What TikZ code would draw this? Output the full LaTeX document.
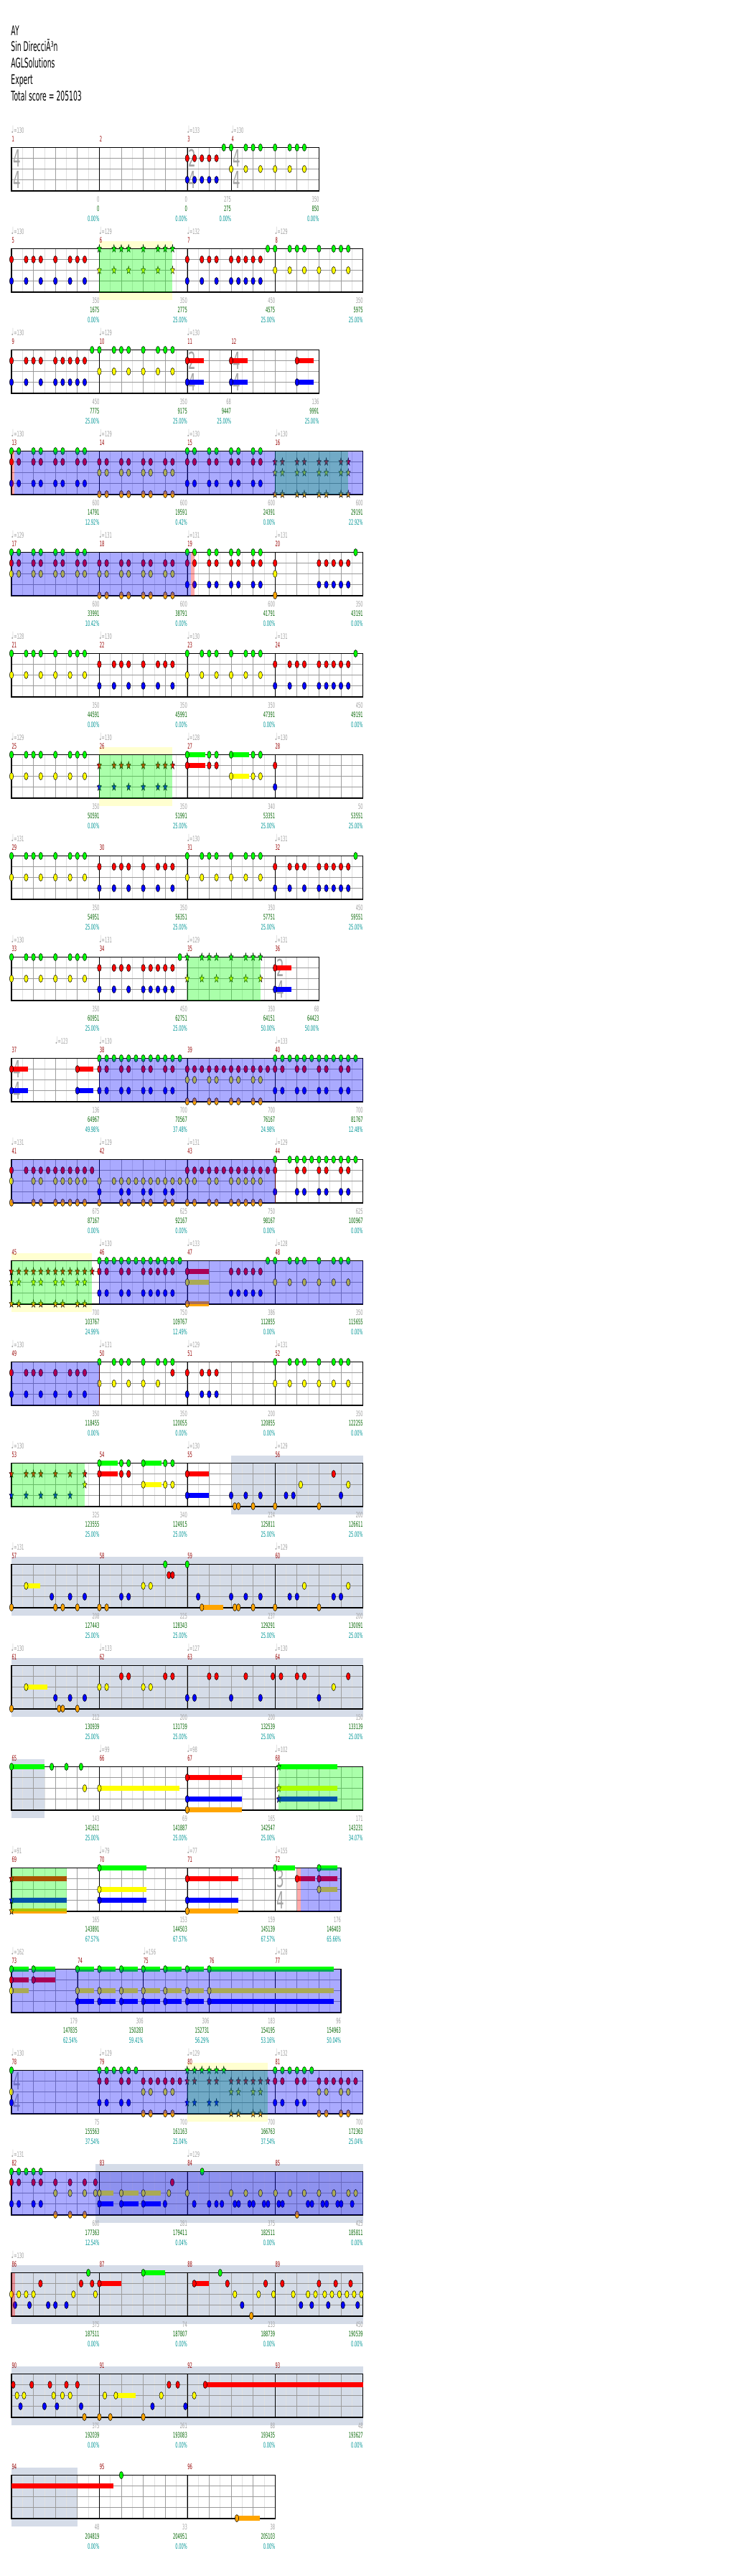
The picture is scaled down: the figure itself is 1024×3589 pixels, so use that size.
\documentclass[tikz,border=0pt]{standalone}
\usepackage{fontspec}
\setmainfont{DejaVu Sans}[FakeStretch=0.5]
\usetikzlibrary{shapes.geometric}
\definecolor{cG}{RGB}{0,255,0}
\definecolor{cR}{RGB}{255,0,0}
\definecolor{cY}{RGB}{255,255,0}
\definecolor{cB}{RGB}{0,0,255}
\definecolor{cO}{RGB}{255,165,0}
\definecolor{cSolo}{RGB}{213,220,232}
\definecolor{cPale}{RGB}{255,255,208}
\definecolor{cLg}{RGB}{160,160,160}
\definecolor{cGr}{RGB}{0,100,0}
\definecolor{cTl}{RGB}{0,150,150}
\definecolor{cMn}{RGB}{150,0,0}
\definecolor{cTs}{RGB}{165,165,165}
\newcommand\myN[3]{\foreach \b in {#3}{\filldraw[nt,fill=#1] (\b,#2) ellipse [x radius=2.7pt,y radius=5pt];}}
\newcommand\myS[3]{\foreach \b in {#3}{\node[stn,fill=#1] at (\b,#2) {};}}
\newcommand\mySus[4]{\fill[#1] (#3,{#2-3.4}) rectangle (#4,{#2+3.4});}
\newcommand\myOv[3]{\fill[#1,fill opacity=0.333] (#2,0) rectangle (#3,60.5);}
\newcommand\myBg[3]{\fill[#1] (#2,-10.3) rectangle (#3,71);}
\newcommand\myBgP[2]{\fill[cPale] (#1,-10.3) rectangle (#2,0);\fill[cPale] (#1,60.5) rectangle (#2,71);}
\newcommand\myLab[4]{\node[lg] at (#1,76) {#2};\node[lgr] at (#1,89.3) {#3};\node[lpc] at (#1,102.5) {#4};}
\newcommand\myTmp[2]{\node[tmp] at (#1,-20.3) {{\fontsize{14}{14}\selectfont ♩}=#2};}
\newcommand\myMn[2]{\node[mnum] at (#1,-7.9) {#2};}
\newcommand\myMns[4]{\myMn{0}{#1}\myMn{4}{#2}\myMn{8}{#3}\myMn{12}{#4}}
\newcommand\myTS[3]{\node[tsig] at (#1,15) {#2};\node[tsig] at (#1,45) {#3};}
\newcommand\myStaff[2]{%
  \foreach \i in {1,...,#1}{\draw[hb] ({\i-0.5},0) -- ({\i-0.5},60.5);}
  \pgfmathtruncatemacro\mynmx{#1-1}
  \foreach \i in {1,...,\mynmx}{\draw[bt] (\i,0) -- (\i,60.5);}
  \foreach \y in {15,30,45}{\draw[hl] (0,\y) -- (#1,\y);}
  \foreach \i in {#2}{\draw[ml] (\i,0) -- (\i,60.5);}
  \draw[bd] (0,0) rectangle (#1,60.5);}
\begin{document}
\begin{tikzpicture}[x=1pt,y=-1pt,
 every node/.style={inner sep=0pt,outer sep=0pt},
 nt/.style={draw=black,line width=0.5pt},
 stn/.style={star,star points=5,star point ratio=2.4,minimum size=11.5pt,inner sep=0pt,draw=black,line width=0.4pt,xscale=0.58,transform shape},
 hb/.style={black!12,line width=0.6pt},
 bt/.style={black!38,line width=0.7pt},
 hl/.style={black!40,line width=0.9pt},
 ml/.style={black,line width=0.6pt},
 bd/.style={black,line width=1.1pt},
 lg/.style={text=cLg,anchor=base east,font=\fontsize{10.3}{12}\selectfont},
 lgr/.style={text=cGr,anchor=base east,font=\fontsize{10.3}{12}\selectfont},
 lpc/.style={text=cTl,anchor=base east,font=\fontsize{10.3}{12}\selectfont},
 tmp/.style={text=cLg,anchor=base west,font=\fontsize{10.3}{12}\selectfont},
 mnum/.style={text=cMn,anchor=base west,xshift=0.5pt,font=\fontsize{10.3}{12}\selectfont},
 tsig/.style={text=cTs,anchor=west,xshift=2pt,font=\fontsize{33}{33}\selectfont},
 hdr/.style={anchor=base west,font=\fontsize{18.5}{20}\selectfont}]
\useasboundingbox (0,0) rectangle (1024,3589);
\fill[white] (0,0) rectangle (1024,3589);
\node[hdr] (h1) at (15.5,49.3) {AY};
\node[hdr] (h2) at (15.5,72) {Sin DirecciÃ³n};
\node[hdr] (h3) at (15.5,95) {AGLSolutions};
\node[hdr] (h4) at (15.5,117.5) {Expert};
\node[hdr] (h5) at (15.5,140.7) {Total score = 205103};
% Row 1
\begin{scope}[shift={(16,205.5)},x=30.6pt]
\myStaff{14}{4,8,10}
\myTS{0}{4}{4}\myTS{8}{2}{4}\myTS{10}{4}{4}
\myN{cR}{15}{8,8.333,8.667,9,9.333}
\myN{cB}{45}{8,8.333,8.667,9,9.333}
\myN{cG}{0}{9.667,10,10.667,11,11.333,12,12.667,13,13.333}
\myN{cY}{30}{10,10.667,11.333,12,12.667,13.333}
\myTmp{0}{130}\myTmp{8}{133}\myTmp{10}{130}
\myMn{0}{1}\myMn{4}{2}\myMn{8}{3}\myMn{10}{4}
\myLab{4}{0}{0}{0.00\%}\myLab{8}{0}{0}{0.00\%}\myLab{10}{275}{275}{0.00\%}\myLab{14}{350}{850}{0.00\%}
\end{scope}
% Row 2
\begin{scope}[shift={(16,346.5)},x=30.6pt]
\myBgP{4}{7.33}
\myStaff{16}{4,8,12}
\myN{cR}{15}{0,0.667,1,1.333,2,2.667,3,3.333}
\myN{cB}{45}{0,0.667,1.333,2,2.667,3.333}
\myS{cG}{0}{4,4.667,5,5.333,6,6.667,7,7.333}
\myS{cY}{30}{4,4.667,5.333,6,6.667,7.333}
\myN{cR}{15}{8,8.667,9,9.333,10,10.333,10.667,11,11.333}
\myN{cB}{45}{8,8.667,9.333,10,10.333,10.667,11,11.333}
\myN{cG}{0}{11.667,12,12.667,13,13.333,14,14.667,15,15.333}
\myN{cY}{30}{12,12.667,13.333,14,14.667,15.333}
\myOv{green}{4}{7.33}
\myTmp{0}{130}\myTmp{4}{129}\myTmp{8}{132}\myTmp{12}{129}
\myMns{5}{6}{7}{8}
\myLab{4}{350}{1675}{0.00\%}\myLab{8}{350}{2775}{25.00\%}\myLab{12}{450}{4575}{25.00\%}\myLab{16}{350}{5975}{25.00\%}
\end{scope}
% Row 3
\begin{scope}[shift={(16,487.5)},x=30.6pt]
\myStaff{14}{4,8,10}
\myTS{8}{2}{4}\myTS{10}{4}{4}
\myN{cR}{15}{0,0.667,1,1.333,2,2.333,2.667,3,3.333}
\myN{cB}{45}{0,0.667,1.333,2,2.333,2.667,3,3.333}
\myN{cG}{0}{3.667,4,4.667,5,5.333,6,6.667,7,7.333}
\myN{cY}{30}{4,4.667,5.333,6,6.667,7.333}
\mySus{cR}{15}{8}{8.75}\mySus{cB}{45}{8}{8.75}
\mySus{cR}{15}{10}{10.75}\mySus{cB}{45}{10}{10.75}
\mySus{cR}{15}{13}{13.76}\mySus{cB}{45}{13}{13.76}
\myN{cR}{15}{8,10,13}\myN{cB}{45}{8,10,13}
\myTmp{0}{130}\myTmp{4}{129}\myTmp{8}{130}
\myMn{0}{9}\myMn{4}{10}\myMn{8}{11}\myMn{10}{12}
\myLab{4}{450}{7775}{25.00\%}\myLab{8}{350}{9175}{25.00\%}\myLab{10}{68}{9447}{25.00\%}\myLab{14}{136}{9991}{25.00\%}
\end{scope}
% Row 4
\begin{scope}[shift={(16,628.5)},x=30.6pt]
\myStaff{16}{4,8,12}
\myN{cG}{0}{0,0.333,1,1.333,2,2.333,3,3.333}
\myN{cR}{15}{0,0.333,1,1.333,2,2.333,3,3.333}
\myN{cB}{45}{0,0.333,1,1.333,2,2.333,3,3.333}
\myN{cR}{15}{4,4.333,5,5.333,6,6.333,7,7.333}
\myN{cY}{30}{4,4.333,5,5.333,6,6.333,7,7.333}
\myN{cO}{60}{4,4.333,5,5.333,6,6.333,7,7.333}
\myN{cG}{0}{8,8.333,9,9.333,10,10.333,11,11.333}
\myN{cR}{15}{8,8.333,9,9.333,10,10.333,11,11.333}
\myN{cB}{45}{8,8.333,9,9.333,10,10.333,11,11.333}
\myS{cR}{15}{12,12.333,13,13.333,14,14.333,15,15.333}
\myS{cY}{30}{12,12.333,13,13.333,14,14.333,15,15.333}
\myS{cO}{60}{12,12.333,13,13.333,14,14.333,15,15.333}
\myOv{green}{12}{15.34}\myOv{red}{0}{0.13}\myOv{blue}{0.13}{16}
\myTmp{0}{130}\myTmp{4}{129}\myTmp{8}{130}\myTmp{12}{130}
\myMns{13}{14}{15}{16}
\myLab{4}{600}{14791}{12.92\%}\myLab{8}{600}{19591}{0.42\%}\myLab{12}{600}{24391}{0.00\%}\myLab{16}{600}{29191}{22.92\%}
\end{scope}
% Row 5
\begin{scope}[shift={(16,769.5)},x=30.6pt]
\myStaff{16}{4,8,12}
\myN{cG}{0}{0,0.333,1,1.333,2,2.333,3,3.333}
\myN{cR}{15}{0,0.333,1,1.333,2,2.333,3,3.333}
\myN{cY}{30}{0,0.333,1,1.333,2,2.333,3,3.333}
\myN{cR}{15}{4,4.333,5,5.333,6,6.333,7,7.333}
\myN{cY}{30}{4,4.333,5,5.333,6,6.333,7,7.333}
\myN{cO}{60}{4,4.333,5,5.333,6,6.333,7,7.333}
\myN{cG}{0}{8,8.333,9,9.333,10,10.333,11,11.333}
\myN{cR}{15}{8,8.333,9,9.333,10,10.333,11,11.333}
\myN{cB}{45}{8,8.333,9,9.333,10,10.333,11,11.333}
\myN{cR}{15}{12,14,14.333,14.667,15,15.333}
\myN{cY}{30}{12}\myN{cO}{60}{12}
\myN{cB}{45}{14,14.333,14.667,15,15.333}
\myN{cG}{0}{15.667}
\myOv{blue}{0}{8.16}\myOv{red}{8.16}{8.32}
\myTmp{0}{129}\myTmp{4}{131}\myTmp{8}{131}\myTmp{12}{131}
\myMns{17}{18}{19}{20}
\myLab{4}{600}{33991}{10.42\%}\myLab{8}{600}{38791}{0.00\%}\myLab{12}{600}{41791}{0.00\%}\myLab{16}{350}{43191}{0.00\%}
\end{scope}
% Row 6
\begin{scope}[shift={(16,910.5)},x=30.6pt]
\myStaff{16}{4,8,12}
\myN{cG}{0}{0,0.667,1,1.333,2,2.667,3,3.333}
\myN{cY}{30}{0,0.667,1.333,2,2.667,3.333}
\myN{cR}{15}{4,4.667,5,5.333,6,6.667,7,7.333}
\myN{cB}{45}{4,4.667,5.333,6,6.667,7.333}
\myN{cG}{0}{8,8.667,9,9.333,10,10.667,11,11.333}
\myN{cY}{30}{8,8.667,9.333,10,10.667,11.333}
\myN{cR}{15}{12,12.667,13,13.333,14,14.333,14.667,15,15.333}
\myN{cB}{45}{12,12.667,13.333,14,14.333,14.667,15,15.333}
\myN{cG}{0}{15.667}
\myTmp{0}{128}\myTmp{4}{130}\myTmp{8}{130}\myTmp{12}{131}
\myMns{21}{22}{23}{24}
\myLab{4}{350}{44591}{0.00\%}\myLab{8}{350}{45991}{0.00\%}\myLab{12}{350}{47391}{0.00\%}\myLab{16}{450}{49191}{0.00\%}
\end{scope}
% Row 7
\begin{scope}[shift={(16,1051.5)},x=30.6pt]
\myBgP{4}{7.33}
\myStaff{16}{4,8,12}
\myN{cG}{0}{0,0.667,1,1.333,2,2.667,3,3.333}
\myN{cY}{30}{0,0.667,1.333,2,2.667,3.333}
\myS{cR}{15}{4,4.667,5,5.333,6,6.667,7,7.333}
\myS{cB}{45}{4,4.667,5.333,6,6.667,7}
\mySus{cG}{0}{8}{8.81}\mySus{cR}{15}{8}{8.81}\mySus{cG}{0}{10}{10.82}\mySus{cY}{30}{10}{10.82}
\myN{cG}{0}{8,9,9.333,10,11,11.333}
\myN{cR}{15}{8,9,9.333,12}
\myN{cY}{30}{10,11,11.333}
\myN{cB}{45}{12}
\myOv{green}{4}{7.33}
\myTmp{0}{129}\myTmp{4}{130}\myTmp{8}{128}\myTmp{12}{130}
\myMns{25}{26}{27}{28}
\myLab{4}{350}{50591}{0.00\%}\myLab{8}{350}{51991}{25.00\%}\myLab{12}{340}{53351}{25.00\%}\myLab{16}{50}{53551}{25.00\%}
\end{scope}
% Row 8
\begin{scope}[shift={(16,1192.5)},x=30.6pt]
\myStaff{16}{4,8,12}
\myN{cG}{0}{0,0.667,1,1.333,2,2.667,3,3.333}
\myN{cY}{30}{0,0.667,1.333,2,2.667,3.333}
\myN{cR}{15}{4,4.667,5,5.333,6,6.667,7,7.333}
\myN{cB}{45}{4,4.667,5.333,6,6.667,7.333}
\myN{cG}{0}{8,8.667,9,9.333,10,10.667,11,11.333}
\myN{cY}{30}{8,8.667,9.333,10,10.667,11.333}
\myN{cR}{15}{12,12.667,13,13.333,14,14.333,14.667,15,15.333}
\myN{cB}{45}{12,12.667,13.333,14,14.333,14.667,15,15.333}
\myN{cG}{0}{15.667}
\myTmp{0}{131}\myTmp{8}{130}\myTmp{12}{131}
\myMns{29}{30}{31}{32}
\myLab{4}{350}{54951}{25.00\%}\myLab{8}{350}{56351}{25.00\%}\myLab{12}{350}{57751}{25.00\%}\myLab{16}{450}{59551}{25.00\%}
\end{scope}
% Row 9
\begin{scope}[shift={(16,1333.5)},x=30.6pt]
\myStaff{14}{4,8,12}
\myTS{12}{2}{4}
\myN{cG}{0}{0,0.667,1,1.333,2,2.667,3,3.333,7.667}
\myN{cY}{30}{0,0.667,1.333,2,2.667,3.333}
\myN{cR}{15}{4,4.667,5,5.333,6,6.333,6.667,7,7.333}
\myN{cB}{45}{4,4.667,5.333,6,6.333,6.667,7,7.333}
\myS{cG}{0}{8,8.667,9,9.333,10,10.667,11,11.333}
\myS{cY}{30}{8,8.667,9.333,10,10.667,11.333}
\mySus{cR}{15}{12}{12.75}\mySus{cB}{45}{12}{12.75}
\myN{cR}{15}{12}\myN{cB}{45}{12}
\myOv{green}{8}{11.34}
\myTmp{0}{130}\myTmp{4}{131}\myTmp{8}{129}\myTmp{12}{131}
\myMns{33}{34}{35}{36}
\myLab{4}{350}{60951}{25.00\%}\myLab{8}{450}{62751}{25.00\%}\myLab{12}{350}{64151}{50.00\%}\myLab{14}{68}{64423}{50.00\%}
\end{scope}
% Row 10
\begin{scope}[shift={(16,1474.5)},x=30.6pt]
\myStaff{16}{4,8,12}
\myTS{0}{4}{4}
\mySus{cR}{15}{0}{0.74}\mySus{cB}{45}{0}{0.74}\mySus{cR}{15}{3}{3.74}\mySus{cB}{45}{3}{3.74}
\myN{cR}{15}{0,3}\myN{cB}{45}{0,3}
\myN{cG}{0}{4,4.333,4.667,5,5.333,5.667,6,6.333,6.667,7,7.333,7.667}
\myN{cR}{15}{4,4.333,5,5.333,6,6.333,7,7.333}
\myN{cB}{45}{4,4.333,5,5.333,6,6.333,7,7.333}
\myN{cR}{15}{8,8.333,8.667,9,9.333,9.667,10,10.333,10.667,11,11.333,11.667}
\myN{cY}{30}{8,8.333,9,9.333,10,10.333,11,11.333}
\myN{cO}{60}{8,8.333,9,9.333,10,10.333,11,11.333}
\myN{cG}{0}{12,12.333,12.667,13,13.333,13.667,14,14.333,14.667,15,15.333,15.667}
\myN{cR}{15}{12,12.333,13,13.333,14,14.333,15,15.333}
\myN{cB}{45}{12,12.333,13,13.333,14,14.333,15,15.333}
\myOv{blue}{4}{16}
\myTmp{2}{123}\myTmp{4}{130}\myTmp{12}{133}
\myMns{37}{38}{39}{40}
\myLab{4}{136}{64967}{49.98\%}\myLab{8}{700}{70567}{37.48\%}\myLab{12}{700}{76167}{24.98\%}\myLab{16}{700}{81767}{12.48\%}
\end{scope}
% Row 11
\begin{scope}[shift={(16,1615.5)},x=30.6pt]
\myStaff{16}{4,8,12}
\myN{cR}{15}{0,0.667,1,1.333,1.667,2,2.333,2.667,3,3.333,3.667}
\myN{cY}{30}{0,1,1.333,2,2.333,2.667,3,3.333}
\myN{cO}{60}{0,1,1.333,2,2.333,2.667,3,3.333}
\myN{cY}{30}{4,4.667,5,5.333,5.667,6,6.333,6.667,7,7.333,7.667}
\myN{cB}{45}{4,5,5.333,6,6.333,7,7.333}
\myN{cO}{60}{4,5,5.333,6,6.333,7,7.333}
\myN{cR}{15}{8,8.333,8.667,9,9.333,9.667,10,10.333,10.667,11,11.333,11.667}
\myN{cY}{30}{8,8.333,9,9.333,10,10.333,10.667,11,11.333}
\myN{cO}{60}{8,8.333,9,9.333,10,10.333,10.667,11,11.333}
\myN{cG}{0}{12,12.667,13,13.333,13.667,14,14.333,14.667,15,15.333,15.667}
\myN{cR}{15}{12,13,13.333,14,14.333,15,15.333}
\myN{cB}{45}{12,13,13.333,14,14.333,15,15.333}
\myOv{blue}{0}{12}\myOv{red}{12}{12.03}
\myTmp{0}{131}\myTmp{4}{129}\myTmp{8}{131}\myTmp{12}{129}
\myMns{41}{42}{43}{44}
\myLab{4}{675}{87167}{0.00\%}\myLab{8}{625}{92167}{0.00\%}\myLab{12}{750}{98167}{0.00\%}\myLab{16}{625}{100967}{0.00\%}
\end{scope}
% Row 12
\begin{scope}[shift={(16,1756.5)},x=30.6pt]
\myBgP{0}{3.65}
\myStaff{16}{4,8,12}
\myS{cR}{15}{0,0.333,0.667,1,1.333,1.667,2,2.333,2.667,3,3.333,3.667}
\myS{cY}{30}{0,0.333,1,1.333,2,2.333,3,3.333}
\myS{cO}{60}{0,0.333,1,1.333,2,2.333,3,3.333}
\myN{cG}{0}{4,4.333,4.667,5,5.333,5.667,6,6.333,6.667,7,7.333,7.667}
\myN{cR}{15}{4,4.333,5,5.333,6,6.333,6.667,7,7.333}
\myN{cB}{45}{4,4.333,5,5.333,6,6.333,6.667,7,7.333}
\mySus{cR}{15}{8}{9}\mySus{cY}{30}{8}{9}\mySus{cO}{60}{8}{9}
\myN{cR}{15}{8}\myN{cY}{30}{8}\myN{cO}{60}{8}
\myN{cR}{15}{10,10.333,10.667,11,11.333}
\myN{cB}{45}{10,10.333,10.667,11,11.333}
\myN{cG}{0}{11.667,12,12.667,13,13.333,14,14.667,15,15.333}
\myN{cY}{30}{12,12.667,13.333,14,14.667,15.333}
\myOv{green}{0}{3.65}\myOv{blue}{4}{16}
\myTmp{4}{130}\myTmp{8}{133}\myTmp{12}{128}
\myMns{45}{46}{47}{48}
\myLab{4}{700}{103767}{24.99\%}\myLab{8}{750}{109767}{12.49\%}\myLab{12}{386}{112855}{0.00\%}\myLab{16}{350}{115655}{0.00\%}
\end{scope}
% Row 13
\begin{scope}[shift={(16,1897.5)},x=30.6pt]
\myStaff{16}{4,8,12}
\myN{cR}{15}{0,0.667,1,1.333,2,2.667,3,3.333,7.333}
\myN{cB}{45}{0,0.667,1.333,2,2.667,3.333}
\myN{cG}{0}{4,4.667,5,5.333,6,6.667,7,7.333}
\myN{cY}{30}{4,4.667,5.333,6,6.667}
\myN{cR}{15}{8,8.667,9,9.333}
\myN{cB}{45}{8,8.667,9,9.333}
\myN{cG}{0}{12,12.667,13,13.333,14,14.667,15,15.333}
\myN{cY}{30}{12,12.667,13.333,14,14.667,15.333}
\myOv{blue}{0}{4}\myOv{red}{4}{4.03}
\myTmp{0}{130}\myTmp{4}{131}\myTmp{8}{129}\myTmp{12}{131}
\myMns{49}{50}{51}{52}
\myLab{4}{350}{118455}{0.00\%}\myLab{8}{350}{120055}{0.00\%}\myLab{12}{200}{120855}{0.00\%}\myLab{16}{350}{122255}{0.00\%}
\end{scope}
% Row 14
\begin{scope}[shift={(16,2038.5)},x=30.6pt]
\myBg{cSolo}{10}{16}
\myStaff{16}{4,8,12}
\myS{cR}{15}{0,0.667,1,1.333,2,2.667,3.333}
\myS{cB}{45}{0,0.667,1.333,2,2.667}
\myS{cY}{30}{3.333}
\mySus{cG}{0}{4}{4.83}\mySus{cR}{15}{4}{4.83}\mySus{cG}{0}{6}{6.83}\mySus{cY}{30}{6}{6.83}
\myN{cG}{0}{4,5,5.333,6,7,7.333}
\myN{cR}{15}{4,5,5.333}
\myN{cY}{30}{6,7,7.333}
\mySus{cR}{15}{8}{9}\mySus{cB}{45}{8}{9}
\myN{cR}{15}{8,14.667}\myN{cB}{45}{8}
\myN{cB}{45}{10,10.667,11.333,12.5,12.833,15}
\myN{cY}{30}{13.167,15.333}
\myN{cO}{60}{10.167,10.333,11,12,14}
\myOv{green}{0}{3.32}
\myTmp{0}{130}\myTmp{8}{130}\myTmp{12}{129}
\myMns{53}{54}{55}{56}
\myLab{4}{325}{123555}{25.00\%}\myLab{8}{340}{124915}{25.00\%}\myLab{12}{224}{125811}{25.00\%}\myLab{16}{200}{126611}{25.00\%}
\end{scope}
% Row 15
\begin{scope}[shift={(16,2179.5)},x=30.6pt]
\myBg{cSolo}{0}{16}
\myStaff{16}{4,8,12}
\mySus{cY}{30}{0.667}{1.3}\mySus{cO}{60}{8.667}{9.65}
\myN{cY}{30}{0.667,6,6.333,13.333,15.333}
\myN{cB}{45}{1.833,2.667,3.333,5,5.333,8.5,10,10.667,11.333,12.667,13,14.667,15}
\myN{cO}{60}{0,2,2.333,3,4,4.333,8.667,10.167,10.333,11,12,14}
\myN{cR}{15}{7.167,7.333}
\myN{cG}{0}{7,8}
\myTmp{0}{131}\myTmp{12}{129}
\myMns{57}{58}{59}{60}
\myLab{4}{208}{127443}{25.00\%}\myLab{8}{225}{128343}{25.00\%}\myLab{12}{237}{129291}{25.00\%}\myLab{16}{200}{130091}{25.00\%}
\end{scope}
% Row 16
\begin{scope}[shift={(16,2320.5)},x=30.6pt]
\myBg{cSolo}{0}{16}
\myStaff{16}{4,8,12}
\mySus{cY}{30}{0.667}{1.64}
\myN{cY}{30}{0.667,4,4.333,6,6.333,14.667}
\myN{cB}{45}{2,2.667,3.333,8,8.333,10,11.333,14}
\myN{cO}{60}{0,2.167,2.333,3}
\myN{cR}{15}{5,5.333,7,7.333,9,9.333,10.667,11.9,12.27,13,13.333,15.333}
\myTmp{0}{130}\myTmp{4}{133}\myTmp{8}{127}\myTmp{12}{130}
\myMns{61}{62}{63}{64}
\myLab{4}{212}{130939}{25.00\%}\myLab{8}{200}{131739}{25.00\%}\myLab{12}{200}{132539}{25.00\%}\myLab{16}{150}{133139}{25.00\%}
\end{scope}
% Row 17
\begin{scope}[shift={(16,2461.5)},x=30.6pt]
\myBg{cSolo}{0}{1.5}
\myStaff{16}{4,8,12}
\mySus{cG}{0}{0}{1.5}\mySus{cY}{30}{4}{7.66}
\mySus{cR}{15}{8}{10.5}\mySus{cB}{45}{8}{10.5}\mySus{cO}{60}{8}{10.5}
\mySus{cG}{0}{12.17}{14.84}\mySus{cY}{30}{12.17}{14.84}\mySus{cB}{45}{12.17}{14.84}
\myN{cG}{0}{0,1.833,2.5,3.167}
\myN{cY}{30}{3.333,4}
\myN{cR}{15}{8}\myN{cB}{45}{8}\myN{cO}{60}{8}
\myS{cG}{0}{12.17}\myS{cY}{30}{12.17}\myS{cB}{45}{12.17}
\myOv{green}{12.17}{16}
\myTmp{4}{99}\myTmp{8}{98}\myTmp{12}{102}
\myMns{65}{66}{67}{68}
\myLab{4}{143}{141611}{25.00\%}\myLab{8}{69}{141887}{25.00\%}\myLab{12}{165}{142547}{25.00\%}\myLab{16}{171}{143231}{34.07\%}
\end{scope}
% Row 18
\begin{scope}[shift={(16,2602.5)},x=30.6pt]
\myStaff{15}{4,8,12}
\myTS{12}{3}{4}
\mySus{cR}{15}{0}{2.5}\mySus{cB}{45}{0}{2.5}\mySus{cO}{60}{0}{2.5}
\myS{cR}{15}{0}\myS{cB}{45}{0}\myS{cO}{60}{0}
\mySus{cG}{0}{4}{6.15}\mySus{cY}{30}{4}{6.15}\mySus{cB}{45}{4}{6.15}
\myN{cG}{0}{4}\myN{cY}{30}{4}\myN{cB}{45}{4}
\mySus{cR}{15}{8}{10.32}\mySus{cB}{45}{8}{10.32}\mySus{cO}{60}{8}{10.32}
\myN{cR}{15}{8}\myN{cB}{45}{8}\myN{cO}{60}{8}
\mySus{cG}{0}{12}{12.9}\mySus{cR}{15}{13}{13.82}
\mySus{cG}{0}{14}{14.84}\mySus{cR}{15}{14}{14.84}\mySus{cY}{30}{14}{14.84}
\myN{cG}{0}{12,14}\myN{cR}{15}{13,14}\myN{cY}{30}{14}
\myOv{green}{0}{2.5}\myOv{red}{13}{13.17}\myOv{blue}{13.17}{15}
\myTmp{0}{91}\myTmp{4}{79}\myTmp{8}{77}\myTmp{12}{155}
\myMns{69}{70}{71}{72}
\myLab{4}{165}{143891}{67.57\%}\myLab{8}{153}{144503}{67.57\%}\myLab{12}{159}{145139}{67.57\%}\myLab{15}{176}{146403}{65.66\%}
\end{scope}
% Row 19
\begin{scope}[shift={(16,2743.5)},x=30.6pt]
\myStaff{15}{3,6,9,12}
\mySus{cG}{0}{0}{0.8}\mySus{cR}{15}{0}{0.8}\mySus{cY}{30}{0}{0.8}
\mySus{cG}{0}{1}{2}\mySus{cR}{15}{1}{2}
\foreach \s in {3,4,5,6,7,8}{\mySus{cG}{0}{\s}{\s+0.75}\mySus{cY}{30}{\s}{\s+0.75}\mySus{cB}{45}{\s}{\s+0.75}}
\mySus{cG}{0}{9}{14.67}\mySus{cY}{30}{9}{14.67}\mySus{cB}{45}{9}{14.67}
\myN{cG}{0}{0,1,3,4,5,6,7,8,9}
\myN{cR}{15}{0,1}
\myN{cY}{30}{0,3,4,5,6,7,8,9}
\myN{cB}{45}{3,4,5,6,7,8,9}
\myOv{blue}{0}{15}
\myTmp{0}{162}\myTmp{6}{156}\myTmp{12}{128}
\myMn{0}{73}\myMn{3}{74}\myMn{6}{75}\myMn{9}{76}\myMn{12}{77}
\myLab{3}{179}{147835}{62.54\%}\myLab{6}{306}{150283}{59.41\%}\myLab{9}{306}{152731}{56.29\%}\myLab{12}{183}{154195}{53.16\%}\myLab{15}{96}{154963}{50.04\%}
\end{scope}
% Row 20
\begin{scope}[shift={(16,2884.5)},x=30.6pt]
\myBgP{8}{11.67}
\myStaff{16}{4,8,12}
\myTS{0}{4}{4}
\myN{cG}{0}{0,4,4.333,4.667,5,5.333,5.667}
\myN{cY}{30}{0}
\myN{cB}{45}{0,4,4.333,5,5.333}
\myN{cR}{15}{4,4.333,5,5.333,6,6.333,6.667,7,7.333,7.667}
\myN{cY}{30}{6,6.333,7,7.333}
\myN{cO}{60}{6,6.333,7,7.333}
\myS{cG}{0}{8,8.333,8.667,9,9.333,9.667}
\myS{cR}{15}{8,8.333,9,9.333,10,10.333,10.667,11,11.333,11.667}
\myS{cB}{45}{8,8.333,9,9.333}
\myS{cY}{30}{10,10.333,11,11.333}
\myS{cO}{60}{10,10.333,11,11.333}
\myN{cG}{0}{12,12.333,12.667,13,13.333,13.667}
\myN{cR}{15}{12,12.333,13,13.333,14,14.333,14.667,15,15.333,15.667}
\myN{cB}{45}{12,12.333,13,13.333}
\myN{cY}{30}{14,14.333,15,15.333}
\myN{cO}{60}{14,14.333,15,15.333}
\myOv{green}{8}{11.67}\myOv{blue}{0}{16}
\myTmp{0}{130}\myTmp{4}{129}\myTmp{8}{129}\myTmp{12}{132}
\myMns{78}{79}{80}{81}
\myLab{4}{75}{155563}{37.54\%}\myLab{8}{700}{161163}{25.04\%}\myLab{12}{700}{166763}{37.54\%}\myLab{16}{700}{172363}{25.04\%}
\end{scope}
% Row 21
\begin{scope}[shift={(16,3025.5)},x=30.6pt]
\myBg{cSolo}{3.81}{16}
\myStaff{16}{4,8,12}
\myN{cG}{0}{0,0.333,0.667,1,1.333,8.68}
\myN{cR}{15}{0,0.333,1,1.333,2,2.667,3.333,3.82,7.32}
\myN{cB}{45}{0,0.333,1,1.333}
\myN{cY}{30}{2,2.667,3.333,3.82}
\myN{cO}{60}{2,2.667,3.333,13}
\mySus{cY}{30}{4}{4.65}\mySus{cY}{30}{5}{5.8}\mySus{cY}{30}{6}{6.8}
\mySus{cB}{45}{4}{4.65}\mySus{cB}{45}{5}{5.8}\mySus{cB}{45}{6}{6.8}
\myN{cY}{30}{4,5,6,7.167,8,10,10.667,11.333,12.02,12.68,13.33,14,14.68,15.34,15.67}
\myN{cB}{45}{4,5,6,6.99,8.32,9,9.33,9.58,10.17,10.34,10.84,11.01,11.5,11.68,12.17,12.34,13.5,13.68,14.17,14.35,14.85,15.01,15.51}
\myOv{blue}{0}{16}
\myTmp{0}{131}\myTmp{8}{129}
\myMns{82}{83}{84}{85}
\myLab{4}{600}{177363}{12.54\%}\myLab{8}{281}{179411}{0.04\%}\myLab{12}{375}{182511}{0.00\%}\myLab{16}{425}{185811}{0.00\%}
\end{scope}
% Row 22
\begin{scope}[shift={(16,3166.5)},x=30.6pt]
\myBg{cSolo}{0}{16}
\myStaff{16}{4,8,12}
\mySus{cR}{15}{4}{5}\mySus{cG}{0}{6}{7}\mySus{cR}{15}{8.32}{9}
\myN{cY}{30}{0,0.333,0.667,1,2.82,3.82,10.17,11.25,11.93,12.83,13.5,13.84,14.26,14.59,14.93,15.27,15.6,15.93}
\myN{cB}{45}{0.16,0.82,1.67,2,2.5,10.5,13.18,13.67,14.42,15.09,15.76}
\myN{cR}{15}{1.32,3.17,3.67,4,8.32,9.83,11.57,12.33,14,14.76,15.44}
\myN{cG}{0}{3.5,6,9.5}
\myN{cO}{60}{10.92}
\myOv{red}{0}{0.16}
\myTmp{0}{130}
\myMns{86}{87}{88}{89}
\myLab{4}{375}{187511}{0.00\%}\myLab{8}{74}{187807}{0.00\%}\myLab{12}{233}{188739}{0.00\%}\myLab{16}{450}{190539}{0.00\%}
\end{scope}
% Row 23
\begin{scope}[shift={(16,3307.5)},x=30.6pt]
\myBg{cSolo}{0}{16}
\myStaff{16}{4,8,12}
\mySus{cY}{30}{4.75}{5.66}\mySus{cR}{15}{8.82}{16}
\myN{cR}{15}{0.08,0.92,1.75,2.5,3,7.17,7.57,8.82}
\myN{cY}{30}{0.25,0.57,1.92,2.32,2.67,4.25,4.75,6.82,8.32}
\myN{cB}{45}{0.41,1.5,2.07,3.17,6.42,7.92}
\myN{cO}{60}{3.32,4,4.5,6}
\myMns{90}{91}{92}{93}
\myLab{4}{375}{192039}{0.00\%}\myLab{8}{261}{193083}{0.00\%}\myLab{12}{88}{193435}{0.00\%}\myLab{16}{48}{193627}{0.00\%}
\end{scope}
% Row 24
\begin{scope}[shift={(16,3448.5)},x=30.6pt]
\myBg{cSolo}{0}{3}
\myStaff{12}{4,8}
\mySus{cR}{15}{0}{4.65}\mySus{cO}{60}{10.26}{11.32}
\myN{cG}{0}{5}\myN{cO}{60}{10.26}
\myMn{0}{94}\myMn{4}{95}\myMn{8}{96}
\myLab{4}{48}{204819}{0.00\%}\myLab{8}{33}{204951}{0.00\%}\myLab{12}{38}{205103}{0.00\%}
\end{scope}
\end{tikzpicture}
\end{document}
